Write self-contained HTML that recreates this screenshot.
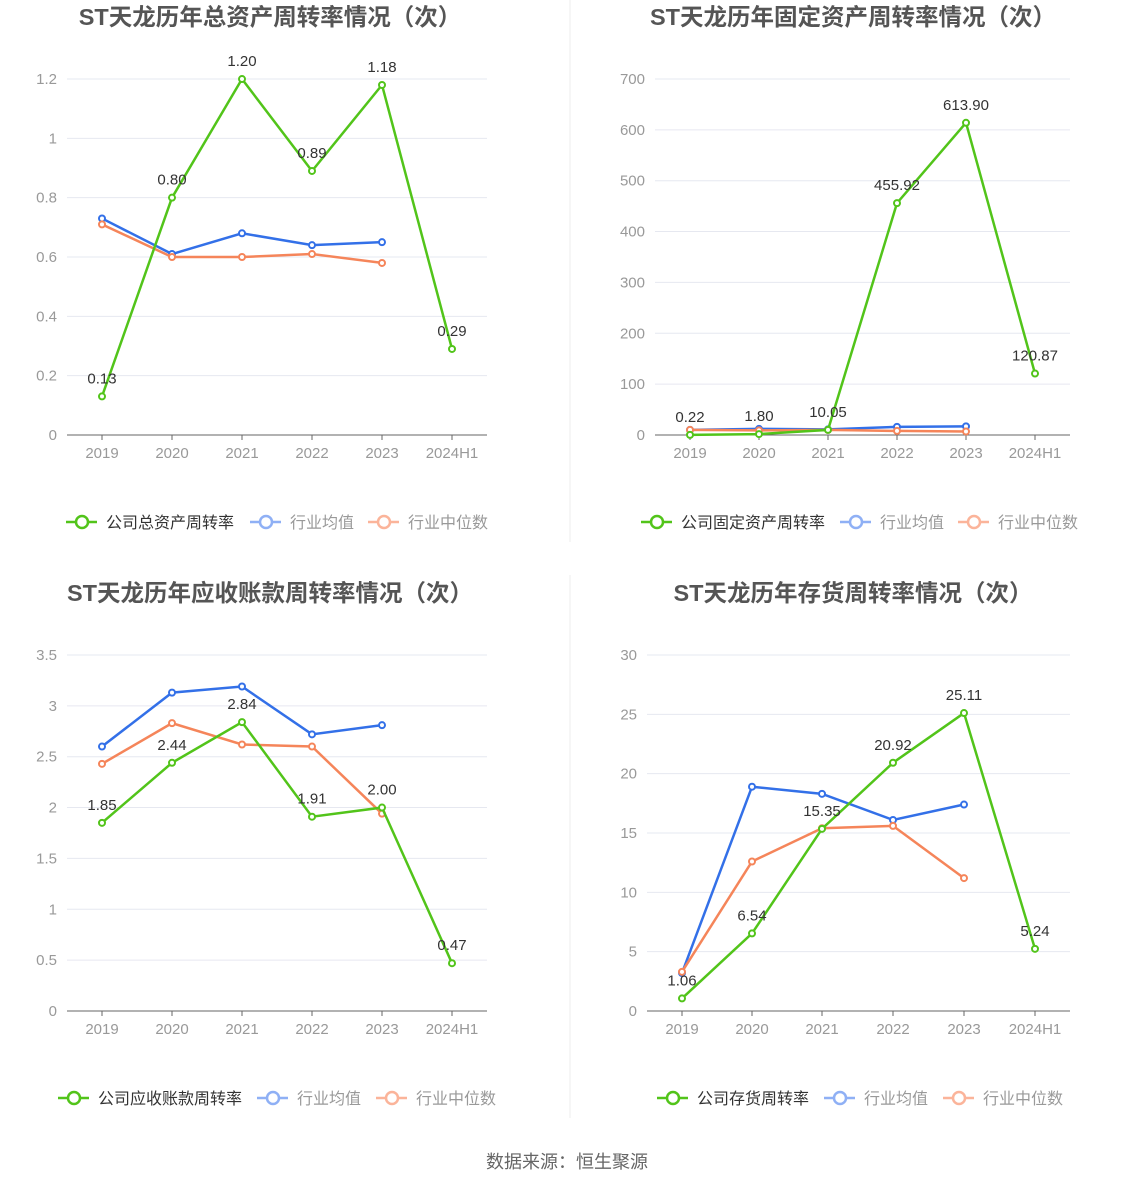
<!DOCTYPE html>
<html><head><meta charset="utf-8"><style>
body{margin:0;background:#fff;width:1134px;height:1188px;overflow:hidden}
svg{font-family:"Liberation Sans","Noto Sans CJK SC",sans-serif}
</style></head><body>
<svg id="s" width="1134" height="1188" xmlns="http://www.w3.org/2000/svg">
<line x1="570" y1="0" x2="570" y2="542" stroke="#eee"/>
<line x1="570" y1="575" x2="570" y2="1118" stroke="#eee"/>
<text x="567" y="1168" font-size="18" fill="#666" text-anchor="middle">数据来源：恒生聚源</text>
</svg>
<script>
const s=document.getElementById('s');let h='';
const G='#52c41a',B='#3370e8',O='#f5855a';
function chart(o){
 const {title,tx,x0,x1,xs,y0,step,ticks,max,g,b,r,leg,lx,ty}=o;
 h+=`<text x="${tx}" y="${ty}" font-size="23.5" font-weight="bold" fill="#555" text-anchor="middle">${title}</text>`;
 const Y=v=>y0-v/max*(y0-(y0-step*(ticks.length-1)));
 ticks.forEach((t,i)=>{const y=y0-step*i;
  if(i>0)h+=`<line x1="${x0}" y1="${y}" x2="${x1}" y2="${y}" stroke="#e6e8f0"/>`;
  h+=`<text x="${x0-10}" y="${y+5}" font-size="15" fill="#999" text-anchor="end">${t}</text>`;});
 h+=`<line x1="${x0}" y1="${y0}" x2="${x1}" y2="${y0}" stroke="#666"/>`;
 const cats=['2019','2020','2021','2022','2023','2024H1'];
 xs.forEach((x,i)=>{h+=`<line x1="${x}" y1="${y0}" x2="${x}" y2="${y0+5}" stroke="#666"/><text x="${x}" y="${y0+23}" font-size="15" fill="#999" text-anchor="middle">${cats[i]}</text>`;});
 [[b,B],[r,O],[g,G]].forEach(([d,c])=>{
  const p=d.map((v,i)=>xs[i]+','+Y(v)).join(' ');
  h+=`<polyline points="${p}" fill="none" stroke="${c}" stroke-width="2.5"/>`;
  d.forEach((v,i)=>h+=`<circle cx="${xs[i]}" cy="${Y(v)}" r="3" fill="#fff" stroke="${c}" stroke-width="2"/>`);
 });
 o.gl.forEach((t,i)=>h+=`<text x="${xs[i]}" y="${Y(g[i])-13}" font-size="15" fill="#333" text-anchor="middle">${t}</text>`);
 const ly=y0+87;
 [[leg,G,'#333'],['行业均值','#8fb0f5','#999'],['行业中位数','#fbb49a','#999']].forEach(([t,c,tc],i)=>{
  const x=lx[i];
  h+=`<line x1="${x}" y1="${ly}" x2="${x+31}" y2="${ly}" stroke="${c}" stroke-width="2.5"/><circle cx="${x+16}" cy="${ly}" r="6" fill="#fff" stroke="${c}" stroke-width="2.5"/><text x="${x+40}" y="${ly+6}" font-size="16" fill="${tc}">${t}</text>`;});
}
chart({title:'ST天龙历年总资产周转率情况（次）',tx:270,ty:25,x0:67,x1:487,xs:[102,172,242,312,382,452],y0:435,step:59.33,ticks:['0','0.2','0.4','0.6','0.8','1','1.2'],max:1.2,
 g:[0.13,0.80,1.20,0.89,1.18,0.29],gl:['0.13','0.80','1.20','0.89','1.18','0.29'],b:[0.73,0.61,0.68,0.64,0.65],r:[0.71,0.60,0.60,0.61,0.58],leg:'公司总资产周转率',lx:[66,250,368]});
chart({title:'ST天龙历年固定资产周转率情况（次）',tx:853,ty:25,x0:655,x1:1070,xs:[690,759,828,897,966,1035],y0:435,step:50.86,ticks:['0','100','200','300','400','500','600','700'],max:700,
 g:[0.22,1.80,10.05,455.92,613.90,120.87],gl:['0.22','1.80','10.05','455.92','613.90','120.87'],b:[10,12,11,16,17],r:[10,9,10,8,7],leg:'公司固定资产周转率',lx:[641,840,958]});
chart({title:'ST天龙历年应收账款周转率情况（次）',tx:270,ty:601,x0:67,x1:487,xs:[102,172,242,312,382,452],y0:1011,step:50.86,ticks:['0','0.5','1','1.5','2','2.5','3','3.5'],max:3.5,
 g:[1.85,2.44,2.84,1.91,2.00,0.47],gl:['1.85','2.44','2.84','1.91','2.00','0.47'],b:[2.60,3.13,3.19,2.72,2.81],r:[2.43,2.83,2.62,2.60,1.94],leg:'公司应收账款周转率',lx:[58,257,376]});
chart({title:'ST天龙历年存货周转率情况（次）',tx:853,ty:601,x0:647,x1:1070,xs:[682,752,822,893,964,1035],y0:1011,step:59.33,ticks:['0','5','10','15','20','25','30'],max:30,
 g:[1.06,6.54,15.35,20.92,25.11,5.24],gl:['1.06','6.54','15.35','20.92','25.11','5.24'],b:[3.2,18.9,18.3,16.1,17.4],r:[3.3,12.6,15.4,15.6,11.2],leg:'公司存货周转率',lx:[657,824,943]});
s.insertAdjacentHTML('beforeend',h);
</script>
</body></html>
